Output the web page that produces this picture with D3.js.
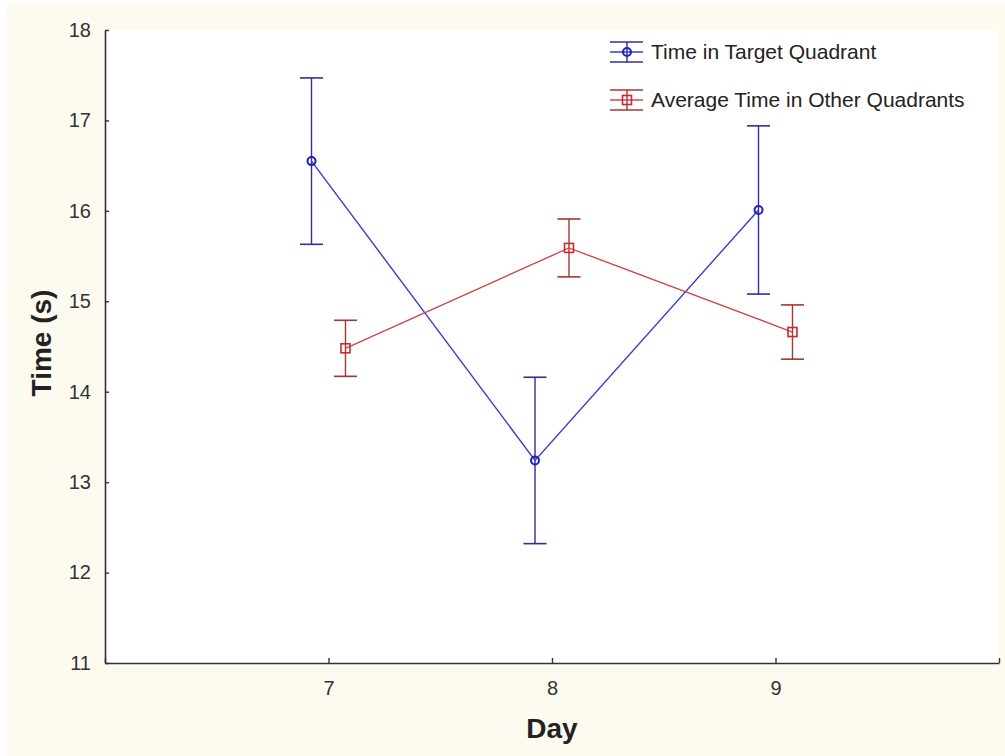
<!DOCTYPE html>
<html>
<head>
<meta charset="utf-8">
<script src="https://d3js.org/d3.v7.min.js"></script>
<style>
  html, body { margin: 0; padding: 0; background: #ffffff; }
  svg { display: block; }
  text { font-family: "Liberation Sans", Arial, sans-serif; }
</style>
</head>
<body>
<script>
// Days on the x axis
const days = [7, 8, 9];
// Time in target quadrant: means and error half-widths (s)
const targetMean = [16.55, 13.24, 16.01];
const targetErr = [0.92, 0.92, 0.93];
// Average time in the other quadrants: means and error half-widths (s)
const otherMean = [14.48, 15.59, 14.66];
const otherErr = [0.31, 0.32, 0.30];
// Axis ticks
const yTicks = [11, 12, 13, 14, 15, 16, 17, 18];
const xTicks = [6, 7, 8, 9, 10];
const xTickLabels = ["", "7", "8", "9", ""];
const seriesNames = ["Time in Target Quadrant", "Average Time in Other Quadrants"];

const W = 1005, H = 756;
const plot = { left: 105, right: 999, top: 30, bottom: 663 };

const svg = d3.select("body").append("svg").attr("width", W).attr("height", H);

// page and plot backgrounds
svg.append("rect").attr("x", 7).attr("y", 3).attr("width", W - 7).attr("height", H - 3).attr("fill", "#fdfaf0");
svg.append("rect").attr("x", plot.left).attr("y", plot.top)
  .attr("width", plot.right - plot.left - 2).attr("height", plot.bottom - plot.top).attr("fill", "#ffffff");

const x = d3.scaleLinear().domain([6, 10]).range([plot.left, plot.right]);
const y = d3.scaleLinear().domain([11, 18]).range([plot.bottom, plot.top]);

// y axis with inward ticks
const yAxis = svg.append("g").attr("transform", `translate(${plot.left},0)`)
  .call(d3.axisLeft(y).tickValues(yTicks).tickFormat(d3.format("d"))
    .tickSizeInner(-4).tickSizeOuter(0).tickPadding(14));
yAxis.select(".domain").attr("stroke", "#333").attr("stroke-width", 1.6);
yAxis.selectAll(".tick line").attr("stroke", "#333").attr("stroke-width", 1.4);
yAxis.selectAll(".tick text").attr("font-size", 20).attr("fill", "#333")
  .attr("font-family", "'Liberation Sans', Arial, sans-serif");

// x axis with inward ticks
const xAxis = svg.append("g").attr("transform", `translate(0,${plot.bottom})`)
  .call(d3.axisBottom(x).tickValues(xTicks).tickFormat((d, i) => xTickLabels[i])
    .tickSizeInner(-5).tickSizeOuter(0).tickPadding(18));
xAxis.select(".domain").attr("stroke", "#333").attr("stroke-width", 1.6);
xAxis.selectAll(".tick line").attr("stroke", "#333").attr("stroke-width", 1.4);
xAxis.selectAll(".tick text").attr("font-size", 20).attr("fill", "#333")
  .attr("font-family", "'Liberation Sans', Arial, sans-serif");

// axis titles
svg.append("text").attr("x", 552).attr("y", 738).attr("text-anchor", "middle")
  .attr("font-size", 28).attr("font-weight", "bold").attr("fill", "#222").text("Day");
svg.append("text").attr("transform", "translate(51,343) rotate(-90)").attr("text-anchor", "middle")
  .attr("font-size", 28).attr("font-weight", "bold").attr("fill", "#222").text("Time (s)");

// series styling and horizontal dodge (in x units)
const series = [
  { name: seriesNames[0], mean: targetMean, err: targetErr, dodge: -0.076,
    line: "#3c3cc8", bar: "#2f2f96", marker: "circle", mark: "#2020b8" },
  { name: seriesNames[1], mean: otherMean, err: otherErr, dodge: 0.076,
    line: "#cc4848", bar: "#a83434", marker: "square", mark: "#cc2a2a" }
];

function drawMarker(g, type, cx, cy, color) {
  if (type === "circle") {
    g.append("circle").attr("cx", cx).attr("cy", cy).attr("r", 4)
      .attr("fill", "none").attr("stroke", color).attr("stroke-width", 2);
  } else {
    g.append("rect").attr("x", cx - 4.5).attr("y", cy - 4.5).attr("width", 9).attr("height", 9)
      .attr("fill", "none").attr("stroke", color).attr("stroke-width", 1.6);
  }
}

series.forEach(s => {
  const g = svg.append("g");
  const pts = days.map((d, i) => ({ d, m: s.mean[i], e: s.err[i] }));
  const capHalf = 11.5;
  // error bars
  pts.forEach(p => {
    const cx = x(p.d + s.dodge);
    g.append("line").attr("x1", cx).attr("x2", cx).attr("y1", y(p.m + p.e)).attr("y2", y(p.m - p.e))
      .attr("stroke", s.bar).attr("stroke-width", 1.4);
    [p.m + p.e, p.m - p.e].forEach(v => {
      g.append("line").attr("x1", cx - capHalf).attr("x2", cx + capHalf).attr("y1", y(v)).attr("y2", y(v))
        .attr("stroke", s.bar).attr("stroke-width", 1.6);
    });
  });
  // connecting line
  g.append("path").datum(pts)
    .attr("d", d3.line().x(p => x(p.d + s.dodge)).y(p => y(p.m)))
    .attr("fill", "none").attr("stroke", s.line).attr("stroke-width", 1.4);
  // markers
  pts.forEach(p => drawMarker(g, s.marker, x(p.d + s.dodge), y(p.m), s.mark));
});

// legend
series.forEach((s, i) => {
  const cy = 52 + i * 48;
  const g = svg.append("g");
  const x0 = 610, x1 = 643, cx = 627;
  g.append("line").attr("x1", x0).attr("x2", x1).attr("y1", cy - 10).attr("y2", cy - 10).attr("stroke", s.bar).attr("stroke-width", 1.6);
  g.append("line").attr("x1", x0).attr("x2", x1).attr("y1", cy + 10).attr("y2", cy + 10).attr("stroke", s.bar).attr("stroke-width", 1.6);
  g.append("line").attr("x1", cx).attr("x2", cx).attr("y1", cy - 10).attr("y2", cy + 10).attr("stroke", s.bar).attr("stroke-width", 1.4);
  g.append("line").attr("x1", x0).attr("x2", x1).attr("y1", cy).attr("y2", cy).attr("stroke", s.line).attr("stroke-width", 1.4);
  drawMarker(g, s.marker, cx, cy, s.mark);
  g.append("text").attr("x", 651).attr("y", cy + 7).attr("font-size", 21).attr("fill", "#222").text(s.name);
});
</script>
</body>
</html>
